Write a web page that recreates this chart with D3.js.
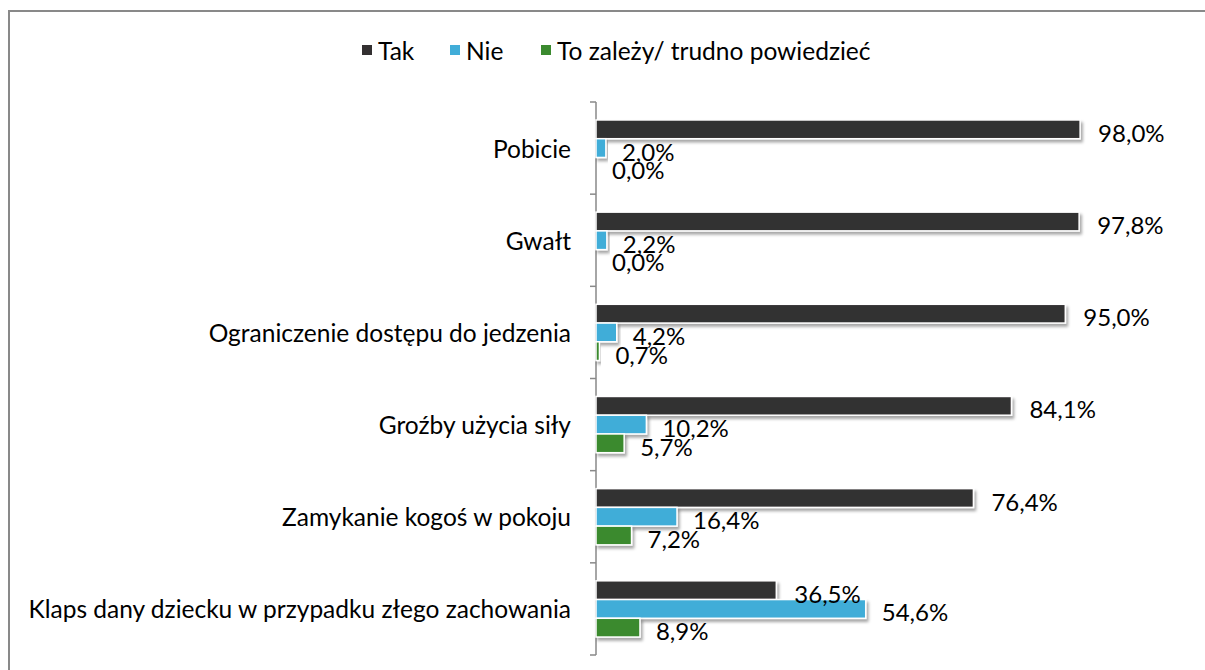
<!DOCTYPE html>
<html><head><meta charset="utf-8">
<script src="https://cdn.jsdelivr.net/npm/d3@7"></script>
<style>body{margin:0;background:#fff}svg{display:block}text{font-family:Lato,"Open Sans",sans-serif}</style>
</head><body>
<script>
const categories = ["Pobicie","Gwałt","Ograniczenie dostępu do jedzenia","Groźby użycia siły","Zamykanie kogoś w pokoju","Klaps dany dziecku w przypadku złego zachowania"];
const seriesNames = ["Tak","Nie","To zależy/ trudno powiedzieć"];
const tak = [98.0, 97.8, 95.0, 84.1, 76.4, 36.5];
const nie = [2.0, 2.2, 4.2, 10.2, 16.4, 54.6];
const zalezy = [0.0, 0.0, 0.7, 5.7, 7.2, 8.9];
const colors = ["#333031", "#41ADD8", "#3B8A2F"];

const W = 1205, H = 670;
const svg = d3.select("body").append("svg").attr("width", W).attr("height", H);
const defs = svg.append("defs");
const f = defs.append("filter").attr("id","sh").attr("x","-10%").attr("y","-30%").attr("width","130%").attr("height","200%");
f.append("feDropShadow").attr("dx",2).attr("dy",3).attr("stdDeviation",1.8).attr("flood-color","#000").attr("flood-opacity",0.35);

svg.append("rect").attr("x",9).attr("y",11).attr("width",1210).attr("height",680)
  .attr("fill","none").attr("stroke","#898989").attr("stroke-width",2);

const series = [tak, nie, zalezy];
const x = d3.scaleLinear().domain([0, 100]).range([596, 1090]);
const y = d3.scaleBand().domain(categories).range([102, 655]).paddingInner(0.39).paddingOuter(0.195);
const sub = d3.scaleBand().domain(d3.range(3)).range([0, y.bandwidth()]);

// axis
const axisG = svg.append("g");
axisG.append("line").attr("x1",596).attr("x2",596).attr("y1",102).attr("y2",655).attr("stroke","#898989").attr("stroke-width",1.5);
const step = y.step();
axisG.selectAll("line.tick").data(d3.range(categories.length+1)).join("line")
  .attr("x1",590).attr("x2",596).attr("y1",i=>102+i*step).attr("y2",i=>102+i*step)
  .attr("stroke","#898989").attr("stroke-width",1.5);
axisG.selectAll("text.cat").data(categories).join("text")
  .attr("x",571).attr("y",d=>y(d)+y.bandwidth()/2).attr("text-anchor","end")
  .attr("dominant-baseline","central").attr("font-size",24.5).attr("fill","#000").text(d=>d);

const fmt = v => v.toFixed(1).replace(".", ",") + "%";
const barsG = svg.append("g");
const labelsG = svg.append("g");
series.forEach((vals, s) => {
  barsG.append("g").selectAll("rect").data(vals).join("rect")
    .attr("x", x(0)).attr("y", (d,i)=>y(categories[i]) + sub(s))
    .attr("width", d=>x(d)-x(0)).attr("height", sub.bandwidth())
    .attr("fill", colors[s]).attr("stroke","#fff").attr("stroke-width",1.5)
    .attr("filter","url(#sh)");
  labelsG.append("g").selectAll("text").data(vals).join("text")
    .attr("x", d=>x(d)+(s===0?18:16)).attr("y",(d,i)=>y(categories[i]) + sub(s) + sub.bandwidth()/2 + 3)
    .attr("dominant-baseline","central").attr("font-size",24).attr("fill","#000").text(fmt);
});

// legend
const legX = [362, 450, 541];
const lg = svg.append("g");
seriesNames.forEach((n,i)=>{
  lg.append("rect").attr("x",legX[i]).attr("y",45).attr("width",10).attr("height",10).attr("fill",colors[i]);
  lg.append("text").attr("x",legX[i]+16).attr("y",50).attr("dominant-baseline","central").attr("font-size",24.5).attr("fill","#000").text(n);
});
</script>
</body></html>
